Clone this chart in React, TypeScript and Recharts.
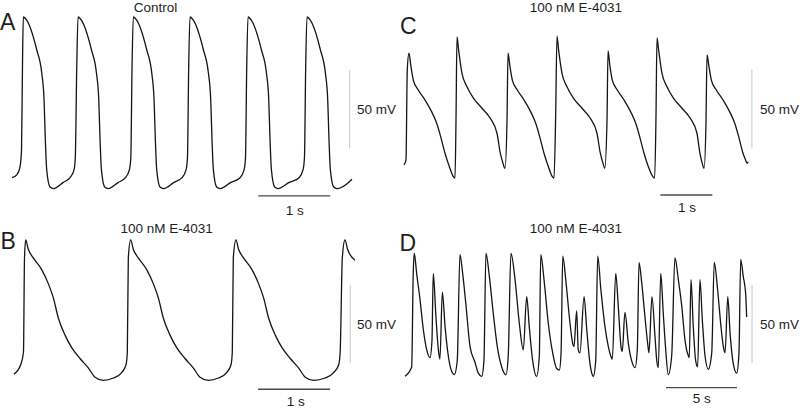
import { LineChart, Line, XAxis, YAxis, ReferenceLine } from 'recharts';

// A: control, time in s, membrane potential in mV
const controlTime = [
  0, 0.069, 0.111, 0.132, 0.146, 0.157, 0.203, 0.343, 0.413, 0.445, 0.463, 0.482, 0.528, 0.574, 0.713, 0.806, 0.861, 0.879, 0.899,
  0.917, 0.963, 1.103, 1.173, 1.205, 1.223, 1.242, 1.288, 1.334, 1.477, 1.575, 1.63, 1.65, 1.667,
  1.685, 1.731, 1.871, 1.941, 1.973, 1.991, 2.01, 2.056, 2.102, 2.25, 2.362, 2.417, 2.437, 2.454,
  2.472, 2.518, 2.658, 2.728, 2.76, 2.778, 2.797, 2.843, 2.889, 3.04, 3.168, 3.223, 3.243, 3.26,
  3.278, 3.324, 3.464, 3.534, 3.566, 3.584, 3.603, 3.649, 3.695, 3.85, 3.987, 4.042, 4.062, 4.079,
  4.097, 4.143, 4.283, 4.353, 4.385, 4.403, 4.422, 4.468, 4.514, 4.65, 4.722,
];
const controlMv = [
  -68, -66, -61, -50, 7, 35, 33, 14, -1, -18, -44, -63, -74, -75, -71, -68, -63, -55, 3,
  35, 33, 14, -1, -18, -44, -63, -74, -75, -71, -68, -63, -55, 3,
  35, 33, 14, -1, -18, -44, -63, -74, -75, -71, -68, -63, -55, 3,
  35, 33, 14, -1, -18, -44, -63, -74, -75, -71, -68, -63, -55, 3,
  35, 33, 14, -1, -18, -44, -63, -74, -75, -71, -68, -63, -55, 3,
  35, 33, 14, -1, -18, -44, -63, -74, -75, -72, -69,
];

// B: 100 nM E-4031, slow beating
const slowTime = [
  0, 0.093, 0.132, 0.146, 0.163, 0.199, 0.269, 0.385, 0.477, 0.546, 0.616, 0.709, 0.802, 0.917, 1.032, 1.126, 1.241, 1.38, 1.496, 1.556, 1.574, 1.588,
  1.621, 1.657, 1.727, 1.843, 1.935, 2.004, 2.074, 2.167, 2.26, 2.375, 2.49, 2.584, 2.699, 2.838, 2.954, 3.014, 3.032, 3.046,
  3.083, 3.119, 3.189, 3.305, 3.397, 3.466, 3.536, 3.629, 3.722, 3.837, 3.952, 4.046, 4.161, 4.32, 4.44, 4.51, 4.53, 4.56,
  4.597, 4.633, 4.736,
];
const slowMv = [
  -66, -60, -52, 8, 20, 14, 8.5, 1, -8, -17, -30, -41, -49, -56, -62, -68, -70, -68.5, -65, -60, -52, 8.5,
  20, 14, 8.5, 1, -8, -17, -30, -41, -49, -56, -62, -68, -70, -68.5, -65, -60, -52, 8.5,
  20, 14, 8.5, 1, -8, -17, -30, -41, -49, -56, -62, -68, -70, -68.5, -65, -60, -52, 8.5,
  20, 14, 7,
];

// C: 100 nM E-4031, alternating beats
const altTime = [
  0, 0.038, 0.063, 0.096, 0.134, 0.179, 0.275, 0.404, 0.533, 0.629, 0.706, 0.788, 0.871, 0.948, 0.981, 1.0,
  1.019, 1.05, 1.115, 1.211, 1.338, 1.5, 1.659, 1.788, 1.852, 1.904, 1.942, 1.981,
  2.0, 2.038, 2.083, 2.179, 2.308, 2.437, 2.533, 2.61, 2.692, 2.775, 2.852, 2.885, 2.915,
  2.942, 2.973, 3.038, 3.134, 3.261, 3.423, 3.582, 3.711, 3.775, 3.827, 3.86, 3.904,
  3.923, 3.961, 4.006, 4.102, 4.231, 4.36, 4.456, 4.533, 4.615, 4.698, 4.785, 4.82, 4.845,
  4.865, 4.896, 4.961, 5.057, 5.184, 5.346, 5.505, 5.634, 5.69, 5.735, 5.77, 5.808,
  5.827, 5.865, 5.91, 6.006, 6.135, 6.264, 6.36, 6.437, 6.519, 6.56, 6.6, 6.615,
];
const altMv = [
  -52, -49, 9, 19.6, 11, 2.4, -4, -10.4, -18, -25.3, -34, -44.5, -53, -59.5, -60.4, -23,
  30, 21.7, 6.7, -1.9, -9.3, -15.7, -22.1, -31.7, -44.5, -51, -54.2, -23,
  19.6, 11, 2.4, -4, -10.4, -18, -25.3, -34, -44.5, -53, -59.5, -60.4, -23,
  30.6, 21.7, 6.7, -1.9, -9.3, -15.7, -22.1, -31.7, -44.5, -51, -54.2, -23,
  21, 11, 2.4, -4, -10.4, -18, -25.3, -34, -44.5, -53, -59.5, -60.4, -23,
  29.4, 21.7, 6.7, -1.9, -9.3, -15.7, -22.1, -31.7, -44.5, -51, -54.2, -23,
  18.5, 11, 2.4, -4, -10.4, -18, -25.3, -34, -44.5, -48, -51, -50,
];

// D: 100 nM E-4031, irregular activity with EADs
const eadTime = [
  0, 0.47, 0.58, 0.65, 0.82, 1.06, 1.29, 1.53, 1.76, 1.9, 1.99, 2.18, 2.35, 2.46, 2.63, 2.82, 3.05, 3.29, 3.47, 3.68,
  3.87, 4.06, 4.3, 4.58, 4.93, 5.16, 5.4, 5.56, 5.7, 5.94, 6.22, 6.5, 6.81, 7.11, 7.27, 7.46, 7.75, 8.05, 8.33, 8.57,
  8.75, 8.99, 9.27, 9.46, 9.56, 9.79, 10.09, 10.4, 10.68, 10.87, 10.99, 11.11, 11.34, 11.62, 11.81, 11.9, 12.09, 12.2, 12.32, 12.61,
  12.8, 13.03, 13.19, 13.26, 13.43, 13.57, 13.8, 14.08, 14.32, 14.56, 14.6, 14.84, 15.02, 15.21, 15.3, 15.49, 15.73, 15.96, 16.2, 16.36,
  16.48, 16.67, 16.9, 17.09, 17.18, 17.39, 17.61, 17.73, 17.84, 18.01, 18.19, 18.36, 18.54, 18.78, 19.01, 19.25, 19.49, 19.72, 19.96, 20.02,
  20.14, 20.3, 20.47, 20.61, 20.77, 20.94, 21.13, 21.36, 21.6, 21.78, 22.02, 22.25, 22.42, 22.54, 22.73, 22.89, 23.12, 23.36, 23.52, 23.64,
  23.82, 23.99, 24.06,
];
const eadMv = [
  -59, -53, 7, 20, 7, -10, -29, -42, -47, -36, 7, -21, -42, -48, -5, -27, -46, -56, -58, -49,
  19, 7, -14, -40, -50, -57, -59, -49, 20, 5, -19, -40, -53, -58, -46, 20, 3, -25, -42, -8,
  -27, -49, -59, -46, 19, 3, -25, -44, -54, -55, -44, 18, 1, -25, -38, -40, -17, -42, -44, -8,
  -29, -51, -58, -59, -49, 18, -4, -27, -40, -47.5, -48, 7, -14, -40, -43, -18, -38, -49, -53.5, -42,
  14, 1, -21, -38, -44, -8, -34, -49, -53.5, 7, -19, -42, -58, -46, 17, 3, -14, -36, -46, -47,
  3, -27, -49, -53, 3, -23, -46, -54.5, -44, 14, -4, -27, -40, -44, -8, -31, -51, -57, -44, 16,
  5, -6, -21,
];

const FONT = '"Liberation Sans", Arial, Helvetica, sans-serif';

interface Bar {
  t0: number;
  t1: number;
  v: number;
}
interface VBar {
  t: number;
  v0: number;
  v1: number;
}
interface TraceProps {
  left: number;
  top: number;
  times: number[];
  volts: number[];
  xDomain: [number, number];
  yDomain: [number, number];
  timeBar: Bar;
  voltBar: VBar;
}

function Trace({ left, top, times, volts, xDomain, yDomain, timeBar, voltBar }: TraceProps) {
  const data = times.map((t, i) => ({ t, v: volts[i] }));
  return (
    <div style={{ position: 'absolute', left, top }}>
      <LineChart width={400} height={205} data={data} margin={{ top: 0, right: 0, bottom: 0, left: 0 }}>
        <XAxis type="number" dataKey="t" domain={xDomain} hide allowDataOverflow />
        <YAxis type="number" domain={yDomain} hide allowDataOverflow />
        <ReferenceLine
          segment={[{ x: timeBar.t0, y: timeBar.v }, { x: timeBar.t1, y: timeBar.v }]}
          stroke="#4a4a4a"
          strokeWidth={1.3}
        />
        <ReferenceLine
          segment={[{ x: voltBar.t, y: voltBar.v0 }, { x: voltBar.t, y: voltBar.v1 }]}
          stroke="#c8c8c8"
          strokeWidth={1}
        />
        <Line
          type="monotone"
          dataKey="v"
          stroke="#151515"
          strokeWidth={1.3}
          dot={false}
          activeDot={false}
          isAnimationActive={false}
        />
      </LineChart>
    </div>
  );
}

// text placed by its visual centre
function Text({ x, y, size = 13.5, center = false, children }: { x: number; y: number; size?: number; center?: boolean; children: string }) {
  return (
    <div
      style={{
        position: 'absolute',
        left: x,
        top: y - size / 2,
        fontSize: size,
        lineHeight: `${size}px`,
        fontFamily: FONT,
        color: '#1e1e1e',
        whiteSpace: 'nowrap',
        transform: center ? 'translateX(-50%)' : undefined,
      }}
    >
      {children}
    </div>
  );
}

export default function App() {
  return (
    <div style={{ position: 'absolute', left: 0, top: 0, width: 800, height: 410, background: '#fff', overflow: 'hidden' }}>
      <Trace
        left={0}
        top={0}
        times={controlTime}
        volts={controlMv}
        xDomain={[-0.167, 5.389]}
        yDomain={[-85.5, 45.9]}
        timeBar={{ t0: 3.42, t1: 4.42, v: -79.7 }}
        voltBar={{ t: 4.69, v0: 1, v1: -49 }}
      />
      <Trace
        left={0}
        top={205}
        times={slowTime}
        volts={slowMv}
        xDomain={[-0.194, 5.361]}
        yDomain={[-89, 42.4]}
        timeBar={{ t0: 3.39, t1: 4.39, v: -75.7 }}
        voltBar={{ t: 4.67, v0: -9, v1: -59 }}
      />
      <Trace
        left={400}
        top={0}
        times={altTime}
        volts={altMv}
        xDomain={[-0.077, 7.615]}
        yDomain={[-77.7, 53.7]}
        timeBar={{ t0: 4.93, t1: 5.93, v: -71.3 }}
        voltBar={{ t: 6.69, v0: 9, v1: -41 }}
      />
      <Trace
        left={400}
        top={205}
        times={eadTime}
        volts={eadMv}
        xDomain={[-0.352, 27.817]}
        yDomain={[-80.6, 50.8]}
        timeBar={{ t0: 18.38, t1: 23.38, v: -66.3 }}
        voltBar={{ t: 24.44, v0: -0.5, v1: -50.5 }}
      />

      <Text x={0} y={22} size={23}>A</Text>
      <Text x={0.5} y={241.5} size={23}>B</Text>
      <Text x={400} y={26} size={23}>C</Text>
      <Text x={399.5} y={243.5} size={23}>D</Text>

      <Text x={155.5} y={7.5} center>Control</Text>
      <Text x={575.8} y={7.5} center>100 nM E-4031</Text>
      <Text x={166.7} y={228.3} center>100 nM E-4031</Text>
      <Text x={575.8} y={228.3} center>100 nM E-4031</Text>

      <Text x={357} y={110}>50 mV</Text>
      <Text x={760} y={110}>50 mV</Text>
      <Text x={357} y={325}>50 mV</Text>
      <Text x={760} y={325}>50 mV</Text>

      <Text x={294.7} y={210.7} center>1 s</Text>
      <Text x={687} y={207.5} center>1 s</Text>
      <Text x={295.8} y={401.7} center>1 s</Text>
      <Text x={701.7} y={398.3} center>5 s</Text>
    </div>
  );
}
